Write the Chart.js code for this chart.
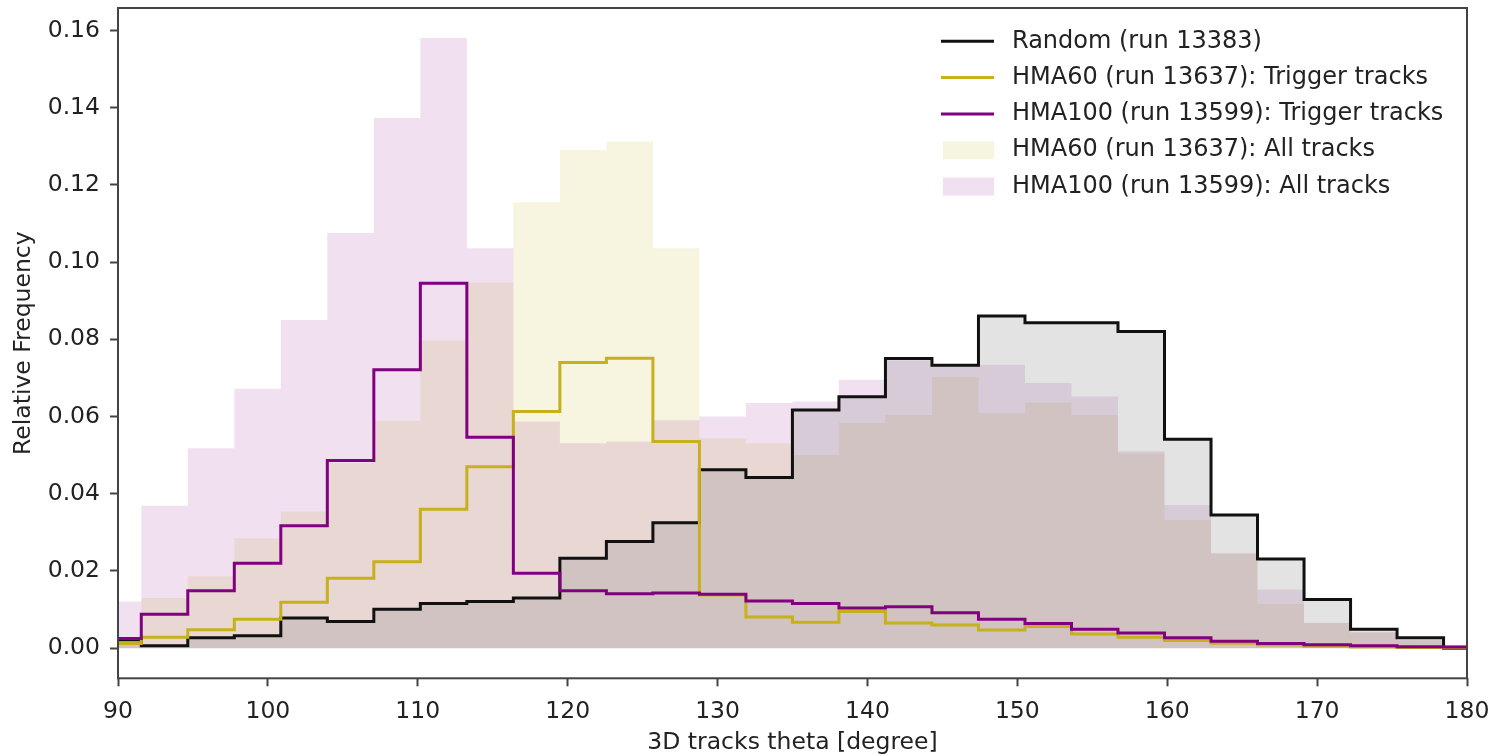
<!doctype html>
<html>
<head>
<meta charset="utf-8">
<title>3D tracks theta</title>
<style>
  html, body { margin: 0; padding: 0; background: #fff; }
</style>
</head>
<body>
<canvas id="myChart" width="1497" height="755"></canvas>
<script src="https://cdn.jsdelivr.net/npm/chart.js"></script>
<script>
// histogram bins: left edge of the first bin and bin width (degrees)
const binStart = 88.45;
const binWidth = 3.103;

// relative frequency per bin (30 bins)
const random13383 = [0.0022, 0.0006, 0.0027, 0.0032, 0.0078, 0.0069, 0.0101, 0.0116, 0.0121, 0.0130,
  0.0233, 0.0276, 0.0325, 0.0462, 0.0442, 0.0617, 0.0651, 0.0750, 0.0733, 0.0860,
  0.0843, 0.0843, 0.0820, 0.0541, 0.0345, 0.0231, 0.0126, 0.0049, 0.0027, 0.0];
const hma60Trigger = [0.0012, 0.0028, 0.0048, 0.0075, 0.0119, 0.0181, 0.0224, 0.0360, 0.0470, 0.0613,
  0.0740, 0.0751, 0.0535, 0.0138, 0.0081, 0.0067, 0.0095, 0.0065, 0.0060, 0.0047,
  0.0056, 0.0037, 0.0028, 0.0020, 0.0013, 0.0008, 0.0005, 0.0003, 0.0002, 0.0001];
const hma100Trigger = [0.0025, 0.0088, 0.0149, 0.0220, 0.0317, 0.0486, 0.0721, 0.0945, 0.0546, 0.0194,
  0.0149, 0.0141, 0.0143, 0.0140, 0.0122, 0.0116, 0.0104, 0.0107, 0.0092, 0.0075,
  0.0064, 0.0049, 0.0039, 0.0027, 0.0018, 0.0012, 0.0009, 0.0006, 0.0004, 0.0003];
const hma60All = [0.0020, 0.0130, 0.0186, 0.0285, 0.0354, 0.0480, 0.0589, 0.0797, 0.0947, 0.1155,
  0.1290, 0.1312, 0.1036, 0.0544, 0.0531, 0.0500, 0.0583, 0.0604, 0.0703, 0.0609,
  0.0636, 0.0604, 0.0505, 0.0332, 0.0245, 0.0115, 0.0065, 0.0040, 0.0020, 0.0008];
const hma100All = [0.0121, 0.0369, 0.0518, 0.0672, 0.0850, 0.1075, 0.1373, 0.1580, 0.1036, 0.0587,
  0.0531, 0.0535, 0.0590, 0.0600, 0.0635, 0.0639, 0.0695, 0.0745, 0.0730, 0.0734,
  0.0687, 0.0652, 0.0510, 0.0371, 0.0246, 0.0152, 0.0066, 0.0042, 0.0021, 0.0009];

const xTicks = [90, 100, 110, 120, 130, 140, 150, 160, 170, 180];
const yTicks = [0, 0.02, 0.04, 0.06, 0.08, 0.10, 0.12, 0.14, 0.16];

const FONT = '"DejaVu Sans", sans-serif';
const TEXT = '#222';
const AXIS = '#444';

// turn bin values into a closed step outline starting and ending at zero
function stepPoints(values) {
  const pts = [{x: binStart, y: 0}];
  values.forEach((v, i) => pts.push({x: binStart + i * binWidth, y: v}));
  pts.push({x: binStart + values.length * binWidth, y: 0});
  return pts;
}

// frame around the plot area (all four spines)
const framePlugin = {
  id: 'frame',
  afterDatasetsDraw(chart) {
    const {ctx, chartArea: a} = chart;
    ctx.save();
    ctx.strokeStyle = AXIS;
    ctx.lineWidth = 2;
    ctx.strokeRect(a.left, a.top, a.right - a.left, a.bottom - a.top);
    ctx.restore();
  }
};

// legend in the upper right corner, lines for step outlines, patches for fills
const cornerLegend = {
  id: 'cornerLegend',
  afterDraw(chart) {
    const {ctx, chartArea} = chart;
    const x0 = chartArea.right - 526;
    let y = chartArea.top + 33.3;
    ctx.save();
    ctx.font = '24px ' + FONT;
    ctx.textBaseline = 'middle';
    ctx.textAlign = 'left';
    chart.data.datasets.forEach(ds => {
      if (ds.legendKind === 'line') {
        ctx.strokeStyle = ds.borderColor;
        ctx.lineWidth = 3;
        ctx.beginPath();
        ctx.moveTo(x0, y);
        ctx.lineTo(x0 + 53, y);
        ctx.stroke();
      } else {
        ctx.fillStyle = ds.backgroundColor;
        ctx.fillRect(x0 + 2, y - 9, 51, 18);
      }
      ctx.fillStyle = TEXT;
      ctx.fillText(ds.label, x0 + 71, y);
      y += 36.3;
    });
    ctx.restore();
  }
};

const ctx = document.getElementById('myChart');
const chart = new Chart(ctx, {
  type: 'line',
  data: {
    datasets: [
      {
        label: 'Random (run 13383)',
        legendKind: 'line',
        data: stepPoints(random13383),
        borderColor: '#111111',
        backgroundColor: 'rgba(128,128,128,0.22)',
        fill: 'origin',
        order: 3
      },
      {
        label: 'HMA60 (run 13637): Trigger tracks',
        legendKind: 'line',
        data: stepPoints(hma60Trigger),
        borderColor: '#c6b01c',
        fill: false,
        order: 2
      },
      {
        label: 'HMA100 (run 13599): Trigger tracks',
        legendKind: 'line',
        data: stepPoints(hma100Trigger),
        borderColor: '#800080',
        fill: false,
        order: 1
      },
      {
        label: 'HMA60 (run 13637): All tracks',
        legendKind: 'patch',
        data: stepPoints(hma60All),
        borderColor: 'rgba(0,0,0,0)',
        backgroundColor: 'rgba(200,185,40,0.15)',
        fill: 'origin',
        order: 5
      },
      {
        label: 'HMA100 (run 13599): All tracks',
        legendKind: 'patch',
        data: stepPoints(hma100All),
        borderColor: 'rgba(0,0,0,0)',
        backgroundColor: 'rgba(128,0,128,0.12)',
        fill: 'origin',
        order: 4
      }
    ]
  },
  options: {
    responsive: false,
    animation: false,
    layout: { padding: { top: 8, right: 30, left: 0, bottom: 0 } },
    datasets: {
      line: { stepped: 'before', borderWidth: 3, pointRadius: 0, clip: 0, tension: 0 }
    },
    plugins: {
      legend: { display: false },
      tooltip: { enabled: false }
    },
    scales: {
      x: {
        type: 'linear',
        min: 90,
        max: 180,
        afterBuildTicks: (scale) => { scale.ticks = xTicks.map(v => ({value: v})); },
        afterFit: (scale) => {
          scale.height = 76.7;
          scale.paddingLeft = 0; scale.paddingRight = 0;
        },
        border: { display: false },
        grid: { drawOnChartArea: false, drawTicks: true, tickLength: 8, tickWidth: 2, color: AXIS },
        ticks: {
          padding: 11,
          color: TEXT,
          maxRotation: 0,
          autoSkip: false,
          font: { family: FONT, size: 23.5 },
          callback: (v) => String(v)
        },
        title: {
          display: true,
          text: '3D tracks theta [degree]',
          color: TEXT,
          font: { family: FONT, size: 23.5 },
          padding: { top: 0, bottom: -2 }
        }
      },
      y: {
        min: -0.0078,
        max: 0.1658,
        afterBuildTicks: (scale) => { scale.ticks = yTicks.map(v => ({value: v})); },
        afterFit: (scale) => {
          scale.width = 118;
          scale.paddingTop = 0; scale.paddingBottom = 0;
        },
        border: { display: false },
        grid: { drawOnChartArea: false, drawTicks: true, tickLength: 8, tickWidth: 2, color: AXIS },
        ticks: {
          padding: 10,
          color: TEXT,
          autoSkip: false,
          font: { family: FONT, size: 23.5 },
          callback: (v) => Number(v).toFixed(2)
        },
        title: {
          display: true,
          text: 'Relative Frequency',
          color: TEXT,
          font: { family: FONT, size: 23.5 },
          padding: { top: 10, bottom: 0 }
        }
      }
    }
  },
  plugins: [framePlugin, cornerLegend]
});
</script>
</body>
</html>
